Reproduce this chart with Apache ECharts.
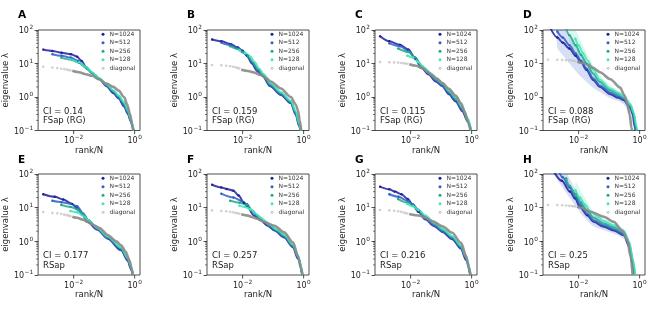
<!DOCTYPE html>
<html>
<head>
<meta charset="utf-8">
<script src="https://cdn.jsdelivr.net/npm/echarts@6/dist/echarts.min.js"></script>
<style>
html, body { margin: 0; padding: 0; background: #fff; }
#chart { width: 657px; height: 310px; }
</style>
</head>
<body>
<div id="chart"></div>
<script>
// panel texts
const panelLetters = ['A', 'B', 'C', 'D', 'E', 'F', 'G', 'H'];
const ciLabels = ['CI = 0.14', 'CI = 0.159', 'CI = 0.115', 'CI = 0.088', 'CI = 0.177', 'CI = 0.257', 'CI = 0.216', 'CI = 0.25'];
const modelLabels = ['FSap (RG)', 'FSap (RG)', 'FSap (RG)', 'FSap (RG)', 'RSap', 'RSap', 'RSap', 'RSap'];
const seriesNames = ['N=1024', 'N=512', 'N=256', 'N=128', 'diagonal'];

// tick values
const xTickValues = [0.01, 1];
const yMinorTicks = [0.2, 0.3, 0.4, 0.5, 0.6, 0.7, 0.8, 0.9, 2, 3, 4, 5, 6, 7, 8, 9, 20, 30, 40, 50, 60, 70, 80, 90];

// [rank/N, eigenvalue], one list per panel A..H
const n1024 = [
  [[0.001,26],[0.002,23.5],[0.004,21],[0.008,19],[0.013,16],[0.018,12],[0.025,8],[0.04,5.2],[0.07,3.4],[0.12,2.1],[0.2,1.3],[0.3,0.9],[0.45,0.52],[0.6,0.31],[0.75,0.19],[0.9,0.1]],
  [[0.001,52],[0.002,46],[0.004,38],[0.007,30],[0.01,24],[0.014,17],[0.02,10],[0.03,6],[0.045,4.2],[0.08,2.1],[0.18,1.15],[0.38,0.65],[0.56,0.29],[0.7,0.14],[0.8,0.1]],
  [[0.001,65],[0.002,46],[0.0045,36],[0.0085,26],[0.014,14],[0.023,7.3],[0.039,4.7],[0.066,2.9],[0.11,2.1],[0.18,1.2],[0.3,0.74],[0.5,0.37],[0.74,0.19],[0.95,0.1]],
  [[0.001,160],[0.002,60],[0.003,42],[0.005,28],[0.008,17],[0.012,11],[0.018,6.5],[0.03,3.2],[0.05,2],[0.11,1.2],[0.2,0.95],[0.3,0.8],[0.5,0.47],[0.6,0.3],[0.68,0.14],[0.74,0.1]],
  [[0.001,25],[0.0024,21],[0.0045,17.5],[0.0087,13],[0.013,9.5],[0.02,6],[0.028,3.8],[0.06,2.2],[0.13,1.2],[0.36,0.54],[0.6,0.26],[0.75,0.15],[0.87,0.1]],
  [[0.001,48],[0.002,40],[0.003,36],[0.005,32],[0.0074,23],[0.011,14],[0.014,11.5],[0.023,5.9],[0.039,4.2],[0.066,2.9],[0.11,2.1],[0.23,1.3],[0.45,0.66],[0.65,0.3],[0.9,0.1]],
  [[0.001,42],[0.002,35],[0.003,30],[0.005,25],[0.008,18],[0.012,12],[0.018,7.5],[0.03,4.5],[0.06,2.8],[0.11,1.9],[0.23,1.15],[0.45,0.6],[0.65,0.28],[0.9,0.1]],
  [[0.001,250],[0.0028,63],[0.0052,30],[0.0076,19],[0.011,10.5],[0.019,6],[0.031,3.8],[0.067,2.7],[0.14,2.1],[0.31,1.5],[0.46,0.67],[0.59,0.21],[0.67,0.1]]
];
const n512 = [
  [[0.002,19],[0.004,17],[0.008,15],[0.014,12],[0.02,9],[0.03,6.5],[0.05,4.5],[0.07,3.5],[0.12,2.2],[0.2,1.4],[0.3,0.95],[0.45,0.57],[0.6,0.33],[0.75,0.19],[0.92,0.1]],
  [[0.002,42],[0.004,35],[0.007,28],[0.01,22],[0.015,16],[0.02,11],[0.03,7],[0.045,4.5],[0.08,2.2],[0.18,1.2],[0.38,0.68],[0.56,0.31],[0.7,0.15],[0.8,0.1]],
  [[0.002,40],[0.0045,33],[0.0085,24],[0.014,15],[0.023,8],[0.039,5],[0.066,3.1],[0.11,2.2],[0.18,1.3],[0.3,0.8],[0.5,0.4],[0.74,0.2],[0.95,0.1]],
  [[0.002,90],[0.003,60],[0.005,35],[0.008,20],[0.012,12],[0.018,7],[0.03,3.6],[0.05,2.2],[0.11,1.35],[0.2,1.05],[0.3,0.85],[0.5,0.5],[0.62,0.3],[0.72,0.12],[0.76,0.1]],
  [[0.002,16],[0.004,14.5],[0.008,13],[0.013,11],[0.02,7],[0.03,4.3],[0.06,2.3],[0.13,1.25],[0.36,0.58],[0.6,0.28],[0.75,0.16],[0.88,0.1]],
  [[0.002,26],[0.005,20],[0.009,16],[0.014,12.6],[0.02,8],[0.03,5.5],[0.05,3.8],[0.08,2.7],[0.13,2.0],[0.23,1.35],[0.45,0.7],[0.65,0.32],[0.91,0.1]],
  [[0.002,25],[0.004,21],[0.008,16],[0.012,12.5],[0.018,8.5],[0.03,5],[0.06,3],[0.11,2],[0.23,1.25],[0.45,0.65],[0.65,0.3],[0.91,0.1]],
  [[0.002,150],[0.003,80],[0.005,40],[0.008,20],[0.012,11.5],[0.019,6.5],[0.031,4.2],[0.067,3],[0.14,2.3],[0.31,1.6],[0.46,0.75],[0.6,0.23],[0.68,0.1]]
];
const n256 = [
  [[0.0039,15],[0.008,13],[0.015,10.5],[0.025,7.5],[0.04,5.2],[0.07,3.5],[0.12,2.3],[0.2,1.5],[0.3,1.05],[0.45,0.65],[0.6,0.37],[0.75,0.2],[0.93,0.1]],
  [[0.0039,33],[0.007,27],[0.01,22],[0.015,17],[0.02,12],[0.03,7.5],[0.045,4.8],[0.08,2.4],[0.18,1.3],[0.38,0.72],[0.56,0.34],[0.7,0.16],[0.81,0.1]],
  [[0.0039,28],[0.0085,22],[0.014,15],[0.023,8.5],[0.039,5.3],[0.066,3.4],[0.11,2.4],[0.18,1.45],[0.3,0.9],[0.5,0.45],[0.74,0.22],[0.96,0.1]],
  [[0.0039,110],[0.005,70],[0.008,35],[0.012,18],[0.018,10],[0.03,5],[0.05,2.8],[0.11,1.6],[0.2,1.2],[0.3,0.95],[0.5,0.55],[0.65,0.3],[0.75,0.13],[0.8,0.1]],
  [[0.0039,12],[0.008,10.5],[0.013,9],[0.02,6.5],[0.03,4.3],[0.06,2.4],[0.13,1.35],[0.36,0.62],[0.6,0.3],[0.76,0.17],[0.89,0.1]],
  [[0.0039,16],[0.008,14],[0.014,12],[0.02,8.5],[0.03,6],[0.05,4],[0.08,2.9],[0.13,2.1],[0.23,1.45],[0.45,0.75],[0.65,0.35],[0.92,0.1]],
  [[0.0039,18],[0.008,14],[0.012,11.5],[0.018,8.5],[0.03,5.5],[0.06,3.3],[0.11,2.2],[0.23,1.35],[0.45,0.7],[0.65,0.33],[0.92,0.1]],
  [[0.0039,75],[0.005,45],[0.008,25],[0.012,14],[0.019,8],[0.031,5],[0.067,3.4],[0.14,2.6],[0.31,1.8],[0.46,0.85],[0.6,0.26],[0.7,0.1]]
];
const n128 = [
  [[0.0078,13],[0.015,11],[0.025,8],[0.04,5.5],[0.07,3.6],[0.12,2.4],[0.2,1.6],[0.3,1.1],[0.45,0.7],[0.6,0.41],[0.75,0.22],[0.94,0.1]],
  [[0.0078,25],[0.012,21],[0.018,16],[0.025,11],[0.035,7],[0.05,4.8],[0.08,2.7],[0.18,1.4],[0.38,0.78],[0.56,0.37],[0.7,0.17],[0.82,0.1]],
  [[0.0078,17],[0.012,15],[0.018,11],[0.028,7.5],[0.045,5.2],[0.07,3.6],[0.11,2.6],[0.18,1.6],[0.3,1.0],[0.5,0.5],[0.74,0.24],[0.97,0.1]],
  [[0.0078,55],[0.01,35],[0.014,20],[0.02,12],[0.03,6.5],[0.05,3.3],[0.11,1.8],[0.2,1.35],[0.3,1.05],[0.5,0.6],[0.65,0.33],[0.78,0.14],[0.84,0.1]],
  [[0.0078,8],[0.013,7.3],[0.02,5.8],[0.03,4.2],[0.06,2.5],[0.13,1.4],[0.36,0.66],[0.6,0.32],[0.77,0.18],[0.9,0.1]],
  [[0.0078,11.5],[0.012,10.5],[0.018,9],[0.025,7],[0.04,5],[0.07,3.3],[0.13,2.3],[0.23,1.6],[0.45,0.8],[0.65,0.38],[0.93,0.1]],
  [[0.0078,13],[0.012,11],[0.018,8.5],[0.03,6],[0.06,3.6],[0.11,2.4],[0.23,1.45],[0.45,0.75],[0.65,0.36],[0.93,0.1]],
  [[0.0078,33],[0.011,20],[0.016,12.5],[0.024,8],[0.04,5.5],[0.067,4],[0.14,3],[0.31,2.0],[0.46,0.95],[0.6,0.3],[0.72,0.1]]
];
// diagonal: first sparse ranks, then the dense body
const diagHead = [
  [[0.001,8],[0.002,7.6],[0.0029,7.3],[0.0039,7.0],[0.0049,6.8],[0.0059,6.6],[0.0068,6.4],[0.0078,6.2]],
  [[0.001,9],[0.002,8.8],[0.0029,8.6],[0.0039,8.3],[0.0049,8],[0.0059,7.7],[0.0068,7.4],[0.0078,7.1]],
  [[0.001,11],[0.002,10.9],[0.0029,10.8],[0.0039,10.6],[0.0049,10.4],[0.0059,10.2],[0.0068,10],[0.0078,9.8]],
  [[0.001,13],[0.002,12.9],[0.0029,12.8],[0.0039,12.6],[0.0049,12.4],[0.0059,12.2],[0.0068,12],[0.0078,11.7]],
  [[0.001,7.4],[0.002,7.0],[0.0029,6.8],[0.0039,6.5],[0.0049,6.2],[0.0059,6.0],[0.0068,5.8],[0.0078,5.6]],
  [[0.001,8.3],[0.002,8.0],[0.0029,7.8],[0.0039,7.5],[0.0049,7.3],[0.0059,7.0],[0.0068,6.8],[0.0078,6.6]],
  [[0.001,8.5],[0.002,8.3],[0.0029,8.1],[0.0039,7.8],[0.0049,7.5],[0.0059,7.2],[0.0068,6.9],[0.0078,6.7]],
  [[0.001,12],[0.002,12],[0.0029,11.8],[0.0039,11.6],[0.0049,11.4],[0.0059,11.2],[0.0068,11],[0.0078,10.8]]
];
const diagBody = [
  [[0.009,6.1],[0.015,5.5],[0.025,4.8],[0.04,4.3],[0.066,3.4],[0.12,2.5],[0.2,2.0],[0.3,1.55],[0.45,1.0],[0.57,0.6],[0.7,0.32],[0.85,0.13],[0.9,0.1]],
  [[0.009,6.5],[0.015,6],[0.025,5.3],[0.038,4.6],[0.06,3.6],[0.083,2.9],[0.18,1.8],[0.38,1.0],[0.55,0.6],[0.65,0.4],[0.75,0.2],[0.83,0.1]],
  [[0.009,9.5],[0.015,8.6],[0.025,7.2],[0.035,5.8],[0.05,4.5],[0.07,3.6],[0.11,2.6],[0.18,1.75],[0.3,1.1],[0.45,0.65],[0.6,0.35],[0.75,0.18],[0.92,0.1]],
  [[0.009,11.3],[0.015,10.2],[0.02,9.3],[0.03,7.4],[0.05,5.5],[0.11,3.4],[0.23,1.9],[0.32,1.1],[0.39,0.66],[0.47,0.3],[0.54,0.12],[0.56,0.1]],
  [[0.009,5.4],[0.013,5.0],[0.02,4.4],[0.03,3.7],[0.046,3.0],[0.07,2.5],[0.13,1.55],[0.25,1.0],[0.36,0.76],[0.5,0.5],[0.68,0.27],[0.8,0.15],[0.87,0.1]],
  [[0.009,6.4],[0.015,5.8],[0.02,5.3],[0.03,4.7],[0.05,3.8],[0.11,2.9],[0.23,1.85],[0.45,0.93],[0.65,0.37],[0.8,0.17],[0.92,0.1]],
  [[0.009,6.5],[0.02,5.8],[0.03,5],[0.05,4],[0.11,2.8],[0.23,1.8],[0.45,0.9],[0.65,0.38],[0.8,0.17],[0.92,0.1]],
  [[0.009,10.6],[0.012,10],[0.024,7.6],[0.067,5.4],[0.14,3.8],[0.27,2.1],[0.4,1.07],[0.51,0.34],[0.59,0.1]]
];
// spread bands [rank/N, low, high] for panels D and H
const blueBandD = [[0.002,30,300],[0.003,18,150],[0.005,10,70],[0.008,6,35],[0.012,4,20],[0.02,2.6,10],[0.03,1.9,5.5],[0.05,1.4,3],[0.1,0.95,1.8],[0.2,0.75,1.35],[0.3,0.6,1.05],[0.5,0.3,0.65],[0.65,0.1,0.35],[0.75,0.06,0.15]];
const greenBandD = [[0.005,40,300],[0.008,20,100],[0.012,11,45],[0.02,6,18],[0.03,4,9],[0.05,2.4,4.5],[0.1,1.4,2.4],[0.2,1.1,1.6],[0.3,0.9,1.25],[0.5,0.5,0.72],[0.65,0.25,0.42],[0.8,0.08,0.16]];
const blueBandH = [[0.002,70,300],[0.003,40,160],[0.005,20,75],[0.008,11,35],[0.012,6.5,18],[0.02,4,9.5],[0.03,2.8,6],[0.07,2.1,4],[0.14,1.7,3],[0.3,1.2,2.1],[0.45,0.55,1.1],[0.6,0.15,0.35],[0.7,0.07,0.12]];
const greenBandH = [[0.008,20,60],[0.012,12,30],[0.02,7,14],[0.03,5,8],[0.07,3.5,5],[0.14,2.6,3.6],[0.3,1.7,2.4],[0.45,0.8,1.2],[0.6,0.25,0.4],[0.72,0.08,0.13]];

const FONT = 'DejaVu Sans';
const X_MIN = 0.00068, X_MAX = 1.5, Y_MIN = 0.1, Y_MAX = 100;
const PANEL_LEFT = [38, 207, 375, 543];
const PANEL_TOP = [30, 174];
const PANEL_H = [100.5, 101];
const PANEL_W = 102;
const lineColors = ['#20209a', '#3060c8', '#25a88a', '#40e8b8'];
const nData = [n1024, n512, n256, n128];

// 10^e as rich text with a raised exponent
const labelRich = {
  b: { fontSize: 8, fontFamily: FONT, color: '#222', verticalAlign: 'bottom' },
  s: { fontSize: 5.8, fontFamily: FONT, color: '#222', verticalAlign: 'bottom', padding: [0, 0, 4.5, 0.5] }
};
function powLabel(e) {
  return '{b|10}{s|' + (e < 0 ? '\u2212' + (-e) : e) + '}';
}
function xFmt(v) {
  const l = Math.log10(v), e = Math.round(l);
  if (Math.abs(l - e) > 1e-6) return '';
  return xTickValues.some(function (t) { return Math.abs(Math.log10(t) - e) < 1e-6; }) ? powLabel(e) : '';
}
function yFmt(v) {
  const l = Math.log10(v), e = Math.round(l);
  return Math.abs(l - e) > 1e-6 ? '' : powLabel(e);
}
// dots only where the ranks are still sparse
function headSymbol(val) {
  return val[0] < 0.02 ? 2.4 : 0;
}

function bandSeries(p, band, color) {
  return {
    type: 'custom', xAxisIndex: p, yAxisIndex: p, silent: true, z: 1,
    data: [[0.01, 1]],
    renderItem: function (params, api) {
      const up = band.map(function (r) { return api.coord([r[0], r[2]]); });
      const lo = band.map(function (r) { return api.coord([r[0], r[1]]); }).reverse();
      const cs = params.coordSys;
      return {
        type: 'polygon',
        shape: { points: up.concat(lo), smooth: 0.2 },
        style: { fill: color },
        clipPath: { type: 'rect', shape: { x: cs.x, y: cs.y, width: cs.width, height: cs.height } }
      };
    }
  };
}

function tickSeries(p) {
  return {
    type: 'custom', xAxisIndex: p, yAxisIndex: p, silent: true, z: 10,
    data: [[0.01, 1]],
    renderItem: function (params, api) {
      const children = [];
      xTickValues.forEach(function (v) {
        const pt = api.coord([v, Y_MIN]);
        children.push({ type: 'line', shape: { x1: pt[0], y1: pt[1], x2: pt[0], y2: pt[1] + 3.5 }, style: { stroke: '#222', lineWidth: 0.8 } });
      });
      yMinorTicks.forEach(function (v) {
        const pt = api.coord([X_MIN, v]);
        children.push({ type: 'line', shape: { x1: pt[0] - 2, y1: pt[1], x2: pt[0], y2: pt[1] }, style: { stroke: '#222', lineWidth: 0.6 } });
      });
      return { type: 'group', children: children };
    }
  };
}

const grids = [], xAxes = [], yAxes = [], legends = [], series = [], graphics = [];
for (let p = 0; p < 8; p++) {
  const row = Math.floor(p / 4);
  const L = PANEL_LEFT[p % 4], T = PANEL_TOP[row], H = PANEL_H[row];
  grids.push({ left: L, top: T, width: PANEL_W, height: H, show: true, borderColor: '#222', borderWidth: 0.8 });
  xAxes.push({
    gridIndex: p, type: 'log', logBase: 10, min: X_MIN, max: X_MAX,
    name: 'rank/N', nameLocation: 'middle', nameGap: 15,
    nameTextStyle: { fontSize: 8.5, color: '#222', fontFamily: FONT },
    axisLine: { show: false }, axisTick: { show: false }, splitLine: { show: false },
    axisLabel: { fontSize: 8, color: '#222', fontFamily: FONT, margin: 4, formatter: xFmt, rich: labelRich }
  });
  yAxes.push({
    gridIndex: p, type: 'log', logBase: 10, min: Y_MIN, max: Y_MAX,
    name: 'eigenvalue \u03bb', nameLocation: 'middle', nameGap: 26, nameRotate: 90,
    nameTextStyle: { fontSize: 8.5, color: '#222', fontFamily: FONT },
    axisLine: { show: false }, splitLine: { show: false },
    axisTick: { show: true, length: 3.5, lineStyle: { color: '#222', width: 0.8 } },
    axisLabel: { fontSize: 8, color: '#222', fontFamily: FONT, margin: 5, formatter: yFmt, rich: labelRich }
  });
  legends.push({
    orient: 'vertical', left: L + 63.5, top: T + 1, padding: 0,
    icon: 'circle', itemWidth: 3, itemHeight: 3, itemGap: 1.8, selectedMode: false,
    textStyle: { fontSize: 6, color: '#333', fontFamily: FONT, lineHeight: 6.7 },
    data: seriesNames.map(function (n, i) {
      return { name: n, itemStyle: { color: i < 4 ? lineColors[i] : '#c4c4c4' } };
    })
  });

  if (p === 3) {
    series.push(bandSeries(p, blueBandD, 'rgba(70,110,215,0.22)'));
    series.push(bandSeries(p, greenBandD, 'rgba(70,215,170,0.2)'));
  }
  if (p === 7) {
    series.push(bandSeries(p, blueBandH, 'rgba(70,110,215,0.22)'));
    series.push(bandSeries(p, greenBandH, 'rgba(70,215,170,0.2)'));
  }

  for (let k = 0; k < 4; k++) {
    series.push({
      name: seriesNames[k], type: 'line', xAxisIndex: p, yAxisIndex: p,
      data: nData[k][p], smooth: 0.3, smoothMonotone: 'x',
      symbol: 'circle', symbolSize: headSymbol, showSymbol: true,
      lineStyle: { width: 2, color: lineColors[k], opacity: 0.85 },
      itemStyle: { color: lineColors[k] }, z: 3, silent: true
    });
  }
  series.push({
    name: 'diagonal', type: 'scatter', xAxisIndex: p, yAxisIndex: p,
    data: diagHead[p], symbolSize: 2.6, itemStyle: { color: '#c4c4c4' }, z: 4, silent: true
  });
  series.push({
    name: 'diagonal', type: 'line', xAxisIndex: p, yAxisIndex: p,
    data: diagBody[p], smooth: 0.3, smoothMonotone: 'x', showSymbol: false,
    lineStyle: { width: 2.6, color: '#8a8a8a', opacity: 0.9 }, itemStyle: { color: '#8a8a8a' }, z: 4, silent: true
  });
  series.push(tickSeries(p));

  graphics.push({ type: 'text', left: L - 20, top: T - 20 + row * 0.5, style: { text: panelLetters[p], font: 'bold 10.5px ' + FONT, fill: '#000' } });
  graphics.push({ type: 'text', left: L + 5, top: T + H - 23.5, style: { text: ciLabels[p], font: '8.5px ' + FONT, fill: '#222' } });
  graphics.push({ type: 'text', left: L + 5, top: T + H - 14, style: { text: modelLabels[p], font: '8.5px ' + FONT, fill: '#222' } });
}

const chart = echarts.init(document.getElementById('chart'));
chart.setOption({
  animation: false,
  backgroundColor: '#fff',
  grid: grids,
  xAxis: xAxes,
  yAxis: yAxes,
  legend: legends,
  series: series,
  graphic: graphics
});
</script>
</body>
</html>
